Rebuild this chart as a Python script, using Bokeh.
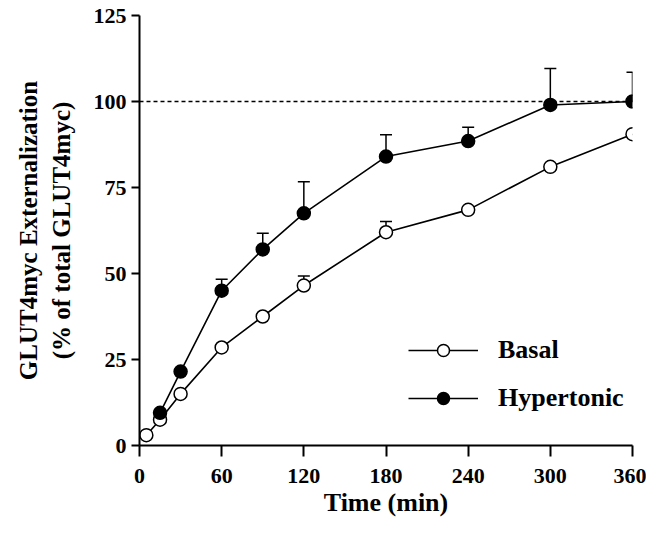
from bokeh.plotting import figure
from bokeh.models import (ColumnDataSource, Whisker, TeeHead, Legend,
                          LegendItem, Span, FixedTicker)
from bokeh.embed import file_html
from bokeh.resources import INLINE

# ---- data ----
time_basal = [5, 15, 30, 60, 90, 120, 180, 240, 300, 360]
basal = [3, 7.5, 15, 28.5, 37.5, 46.5, 62, 68.5, 81, 90.5]
basal_err_time = [120, 180]
basal_err_val = [46.5, 62]
basal_err_upper = [49.3, 65.1]

time_hyper = [15, 30, 60, 90, 120, 180, 240, 300, 360]
hyper = [9.5, 21.5, 45, 57, 67.5, 84, 88.5, 99, 100]
hyper_err_time = [60, 90, 120, 180, 240, 300, 360]
hyper_err_val = [45, 57, 67.5, 84, 88.5, 99, 100]
hyper_err_upper = [48.3, 61.7, 76.7, 90.3, 92.5, 109.6, 108.5]

ref_value = 100
x_ticks = [0, 60, 120, 180, 240, 300, 360]
y_ticks = [0, 25, 50, 75, 100, 125]

FONT = "Liberation Serif"

p = figure(width=646, height=519, x_range=(0, 360), y_range=(0, 125),
           output_backend="svg", toolbar_location=None,
           min_border_left=139, min_border_right=14,
           min_border_top=15, min_border_bottom=72)
p.outline_line_color = None
p.grid.visible = False
p.background_fill_color = "white"

for ax in (p.xaxis[0], p.yaxis[0]):
    ax.axis_line_width = 2
    ax.major_tick_line_width = 2
    ax.major_tick_in = 0
    ax.minor_tick_line_color = None
    ax.major_label_text_font = FONT
    ax.major_label_text_font_style = "bold"
    ax.major_label_text_font_size = "22px"
    ax.major_label_text_color = "black"
    ax.axis_line_color = "black"
    ax.major_tick_line_color = "black"
    ax.axis_label_text_font = FONT
    ax.axis_label_text_font_style = "bold"
    ax.axis_label_text_color = "black"

p.xaxis.ticker = FixedTicker(ticks=x_ticks)
p.yaxis.ticker = FixedTicker(ticks=y_ticks)
p.xaxis.major_tick_out = 11
p.yaxis.major_tick_out = 8
p.xaxis.major_label_standoff = 12
p.yaxis.major_label_standoff = 5

p.xaxis.axis_label = "Time (min)"
p.xaxis.axis_label_text_font_size = "26px"
p.xaxis.axis_label_standoff = 2

p.yaxis.axis_label = "GLUT4myc Externalization\n(% of total GLUT4myc)"
p.yaxis.axis_label_text_font_size = "25px"
p.yaxis.axis_label_standoff = 16

# reference dashed line
p.add_layout(Span(location=ref_value, dimension="width", line_color="black",
                  line_width=1.5, line_dash="4 3"))

src_b = ColumnDataSource(dict(t=time_basal, v=basal))
src_h = ColumnDataSource(dict(t=time_hyper, v=hyper))
err_b = ColumnDataSource(dict(t=basal_err_time, lo=basal_err_val, up=basal_err_upper))
err_h = ColumnDataSource(dict(t=hyper_err_time, lo=hyper_err_val, up=hyper_err_upper))

for es in (err_b, err_h):
    p.add_layout(Whisker(base="t", lower="lo", upper="up", source=es,
                         line_color="black", line_width=1.5, lower_head=None,
                         upper_head=TeeHead(size=12, line_width=1.5,
                                            line_color="black")))

lb = p.line("t", "v", source=src_b, line_color="black", line_width=1.6)
sb = p.scatter("t", "v", source=src_b, size=13, marker="circle",
               fill_color="white", line_color="black", line_width=1.5)
lh = p.line("t", "v", source=src_h, line_color="black", line_width=1.6)
sh = p.scatter("t", "v", source=src_h, size=13, marker="circle",
               fill_color="black", line_color="black", line_width=1.5)

legend = Legend(items=[LegendItem(label="Basal", renderers=[lb, sb]),
                       LegendItem(label="Hypertonic", renderers=[lh, sh])],
                location=(269, 32), orientation="vertical",
                glyph_width=70, glyph_height=30, label_height=30,
                label_standoff=20, spacing=18, padding=0, margin=0,
                border_line_color=None, background_fill_alpha=0,
                label_text_font=FONT, label_text_font_style="bold",
                label_text_font_size="26px", label_text_color="black")
p.add_layout(legend)

open("out.html", "w").write(file_html(p, INLINE))
